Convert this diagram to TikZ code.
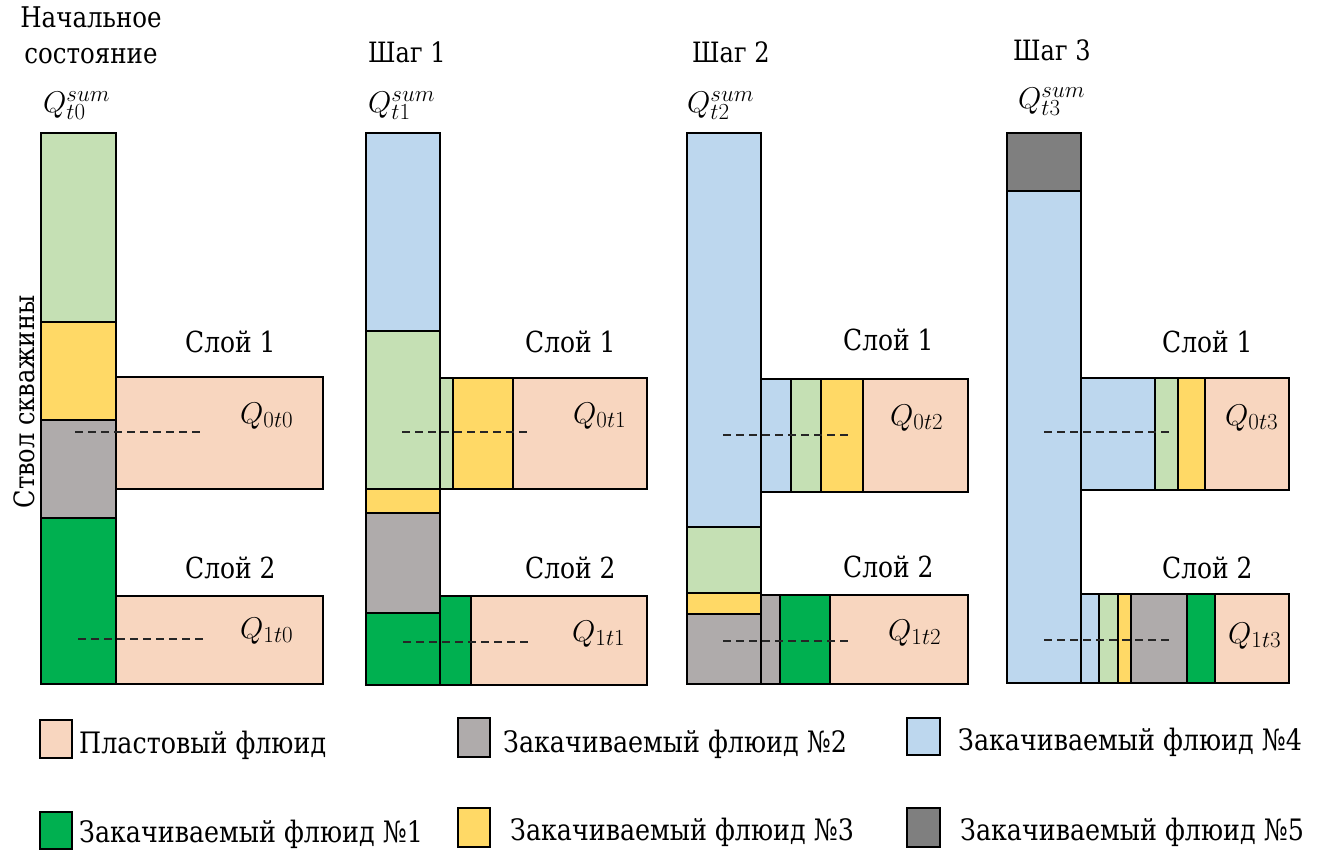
\documentclass[tikz,border=0pt]{standalone}
\usepackage{fix-cm}
\usepackage{fontspec}
\setmainfont{DejaVu Serif}[FakeStretch=0.86]
\DeclareMathSizes{30}{30}{23}{17}
\definecolor{cLG}{HTML}{C5E0B4}
\definecolor{cYE}{HTML}{FFD966}
\definecolor{cGR}{HTML}{AFABAB}
\definecolor{cDG}{HTML}{00B050}
\definecolor{cPE}{HTML}{F8D6BF}
\definecolor{cBL}{HTML}{BDD7EE}
\definecolor{cDK}{HTML}{7F7F7F}
\tikzset{
  seg/.style={draw=black, line width=2.6pt, line join=miter},
  dashln/.style={draw=black!85, line width=1.3pt, dash pattern=on 8pt off 5pt},
  lbl/.style={font=\fontsize{29}{35}\selectfont, inner sep=0pt, anchor=base west},
  ttl/.style={font=\fontsize{28}{36}\selectfont, inner sep=0pt, anchor=base west},
  qlbl/.style={font=\fontsize{30}{34}\selectfont, inner sep=0pt, anchor=base west},
  legbox/.style={draw=black, line width=2.4pt},
  legtxt/.style={font=\fontsize{29.5}{36}\selectfont, inner sep=0pt, anchor=base west},
}
\newcommand{\sg}[5]{\draw[seg, fill=#5] (#1,#2) rectangle (#3,#4);}
\begin{document}
\begin{tikzpicture}[x=1pt,y=-1pt]
\useasboundingbox[fill=white] (0,0) rectangle (1321,851);

% ---------- Panel 0 (initial state)
\sg{41}{133}{116}{322}{cLG}
\sg{41}{322}{116}{420}{cYE}
\sg{41}{420}{116}{518}{cGR}
\sg{41}{518}{116}{684}{cDG}
\sg{116}{377}{323}{489}{cPE}
\sg{116}{596}{323}{684}{cPE}
\draw[dashln] (75,432) -- (202,432);
\draw[dashln] (78,639) -- (205,639);

% ---------- Panel 1
\sg{366}{133}{440}{331}{cBL}
\sg{366}{331}{440}{489}{cLG}
\sg{366}{489}{440}{513}{cYE}
\sg{366}{513}{440}{613}{cGR}
\sg{366}{613}{440}{685}{cDG}
\sg{440}{378}{453}{489}{cLG}
\sg{453}{378}{513}{489}{cYE}
\sg{513}{378}{647}{489}{cPE}
\sg{440}{596}{471}{685}{cDG}
\sg{471}{596}{647}{685}{cPE}
\draw[dashln] (402,432) -- (528,432);
\draw[dashln] (403,642) -- (529,642);

% ---------- Panel 2
\sg{687}{133}{761}{527}{cBL}
\sg{687}{527}{761}{593}{cLG}
\sg{687}{593}{761}{614}{cYE}
\sg{687}{614}{761}{684}{cGR}
\sg{761}{379}{791}{492}{cBL}
\sg{791}{379}{821}{492}{cLG}
\sg{821}{379}{863}{492}{cYE}
\sg{863}{379}{968}{492}{cPE}
\sg{761}{595}{780}{684}{cGR}
\sg{780}{595}{830}{684}{cDG}
\sg{830}{595}{968}{684}{cPE}
\draw[dashln] (723,435) -- (850,435);
\draw[dashln] (723,641) -- (850,641);

% ---------- Panel 3
\sg{1007}{133}{1081}{191}{cDK}
\sg{1007}{191}{1081}{683}{cBL}
\sg{1081}{378}{1155}{490}{cBL}
\sg{1155}{378}{1178}{490}{cLG}
\sg{1178}{378}{1205}{490}{cYE}
\sg{1205}{378}{1289}{490}{cPE}
\sg{1081}{594}{1099}{683}{cBL}
\sg{1099}{594}{1118}{683}{cLG}
\sg{1118}{594}{1131}{683}{cYE}
\sg{1131}{594}{1187}{683}{cGR}
\sg{1187}{594}{1215}{683}{cDG}
\sg{1215}{594}{1289}{683}{cPE}
\draw[dashln] (1044,432) -- (1170,432);
\draw[dashln] (1044,640) -- (1170,640);

% ---------- Titles
\node[font=\fontsize{28.5}{36}\selectfont, inner sep=0pt, align=center, anchor=north] (title0) at (91,7) {Начальное\\состояние};
\node[ttl] (title1) at (368,63) {Шаг 1};
\node[ttl] (title2) at (692,63) {Шаг 2};
\node[ttl] (title3) at (1013,60) {Шаг 3};

\node[qlbl] (qs0) at (43,112) {$Q_{t0}^{sum}$};
\node[qlbl] (qs1) at (368,112) {$Q_{t1}^{sum}$};
\node[qlbl] (qs2) at (687,112) {$Q_{t2}^{sum}$};
\node[qlbl] (qs3) at (1018,108) {$Q_{t3}^{sum}$};

% ---------- Layer labels
\node[lbl] (l01) at (185,352) {Слой 1};
\node[lbl] (l02) at (185,578) {Слой 2};
\node[lbl] (l11) at (525,352) {Слой 1};
\node[lbl] (l12) at (525,578) {Слой 2};
\node[lbl] (l21) at (843,350) {Слой 1};
\node[lbl] (l22) at (843,577) {Слой 2};
\node[lbl] (l31) at (1162,352) {Слой 1};
\node[lbl] (l32) at (1162,578) {Слой 2};

\node[qlbl] (q00) at (240,423) {$Q_{0t0}$};
\node[qlbl] (q10) at (240,638) {$Q_{1t0}$};
\node[qlbl] (q01) at (573,423) {$Q_{0t1}$};
\node[qlbl] (q11) at (572,641) {$Q_{1t1}$};
\node[qlbl] (q02) at (890,425) {$Q_{0t2}$};
\node[qlbl] (q12) at (888,640) {$Q_{1t2}$};
\node[qlbl] (q03) at (1225,425) {$Q_{0t3}$};
\node[qlbl] (q13) at (1228,643) {$Q_{1t3}$};

\node[font=\fontsize{28}{36}\selectfont, inner sep=0pt, rotate=90] (wellbore) at (24,402) {Ствол скважины};

% ---------- Legend
\draw[legbox, fill=cPE] (40,720) rectangle (72,758);
\node[legtxt] (leg1) at (79,753) {Пластовый флюид};
\draw[legbox, fill=cGR] (458,718) rectangle (490,757);
\node[legtxt] (leg2) at (503,752) {Закачиваемый флюид №2};
\draw[legbox, fill=cBL] (907,718) rectangle (940,755);
\node[legtxt] (leg4) at (958,750) {Закачиваемый флюид №4};
\draw[legbox, fill=cDG] (40,812) rectangle (72,849);
\node[legtxt] (leg0) at (79,842) {Закачиваемый флюид №1};
\draw[legbox, fill=cYE] (458,808) rectangle (490,847);
\node[legtxt] (leg3) at (510,840) {Закачиваемый флюид №3};
\draw[legbox, fill=cDK] (907,808) rectangle (940,847);
\node[legtxt] (leg5) at (960,840) {Закачиваемый флюид №5};
\end{tikzpicture}
\end{document}
